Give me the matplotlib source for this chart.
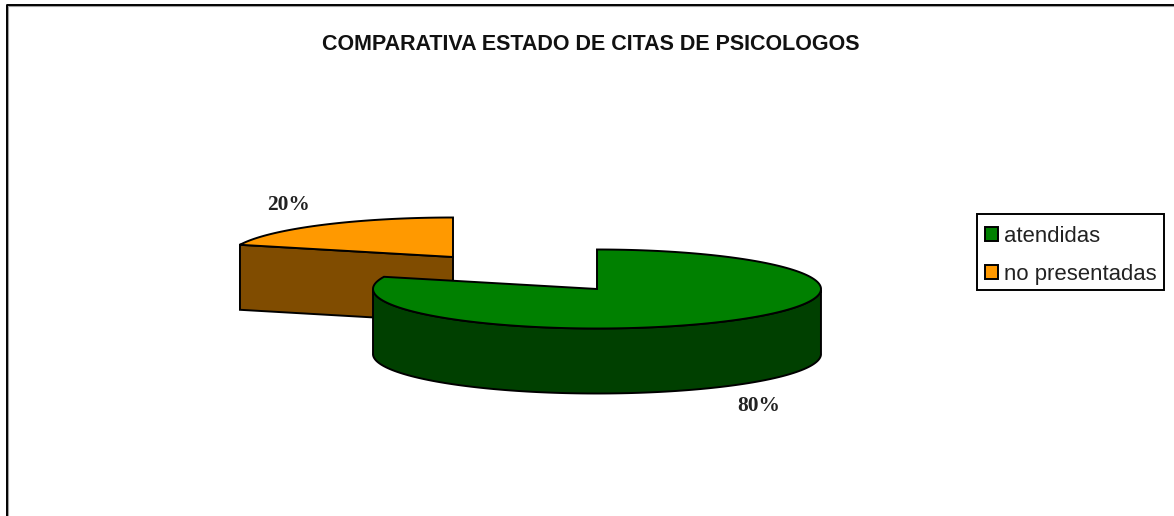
import numpy as np
import matplotlib
matplotlib.use("Agg")
import matplotlib.pyplot as plt
from matplotlib.patches import Patch, Rectangle

title = "COMPARATIVA ESTADO DE CITAS DE PSICOLOGOS"
labels = ["atendidas", "no presentadas"]
values = [80, 20]
pct_labels = ["80%", "20%"]
top_colors = ["#008000", "#ff9900"]
side_colors = ["#004000", "#804c00"]

# layout in pixels of the picture
centers = [(597, 289), (453, 257)]
rx, ry, depth = 224, 39.5, 65
label_pos = [(759, 406), (288, 205)]
show_cut = [False, True]

plt.rcParams['font.family'] = ['Liberation Sans', 'DejaVu Sans']

fig = plt.figure(figsize=(11.74, 5.16), dpi=100)
ax = fig.add_axes([0, 0, 1, 1])
ax.set_xlim(0, 1174)
ax.set_ylim(516, 0)
ax.axis("off")

# chart area frame
ax.plot([8, 8, 1174], [516, 6, 6], color="#a0a0a0", lw=0.8, zorder=1)
ax.plot([6.5, 6.5, 1174], [516, 4.5, 4.5], color="black", lw=1.4, zorder=1)

# slice angles, clockwise from the top
fracs = np.array(values) / sum(values)
ends = 90 - 360 * np.cumsum(fracs)
starts = np.r_[90, ends[:-1]]


def draw_slice(i, z):
    cx, cy = centers[i]
    t = np.linspace(starts[i], ends[i], 200)
    x = cx + rx * np.cos(np.radians(t))
    y = cy - ry * np.sin(np.radians(t))
    # outer wall, only the front half of the rim shows
    front = np.sin(np.radians(t)) <= 0
    if front.any():
        xf, yf = x[front], y[front]
        ax.fill(np.r_[xf, xf[::-1]], np.r_[yf, yf[::-1] + depth],
                fc=side_colors[i], ec="black", lw=1.4, zorder=z)
    # cut face towards the viewer
    if show_cut[i]:
        ax.fill([cx, x[0], x[0], cx], [cy, y[0], y[0] + depth, cy + depth],
                fc=side_colors[i], ec="black", lw=1.4, zorder=z)
    ax.fill(np.r_[cx, x], np.r_[cy, y], fc=top_colors[i], ec="black", lw=1.4, zorder=z + 0.1)


# orange first, the green one sits in front of it
draw_slice(1, 2)
draw_slice(0, 3)

for (lx, ly), s in zip(label_pos, pct_labels):
    ax.text(lx, ly, s, ha="center", va="center", fontsize=15.4, fontweight="bold",
            family=["Liberation Serif", "DejaVu Serif"], color="#222222", zorder=5)

ax.text(590.5, 44, title, ha="center", va="center", fontsize=15.5, fontweight="bold", color="#111111")

# legend box drawn apart so the rows can sit lower in it
ax.add_patch(Rectangle((977, 214), 187, 76, fc="white", ec="black", lw=1.4, zorder=4))
handles = [Patch(fc=c, ec="black", lw=1.4) for c in top_colors]
leg = ax.legend(handles, labels, loc="upper left", bbox_to_anchor=(977 / 1174, 1 - 218 / 516),
                fontsize=15.9, frameon=False,
                handlelength=0.6, handleheight=0.6, handletextpad=0.25, labelspacing=0.76,
                borderpad=0.36, borderaxespad=0)
leg.set_zorder(5)
for txt in leg.get_texts():
    txt.set_color("#222222")

fig.savefig("out.png", dpi=100)
